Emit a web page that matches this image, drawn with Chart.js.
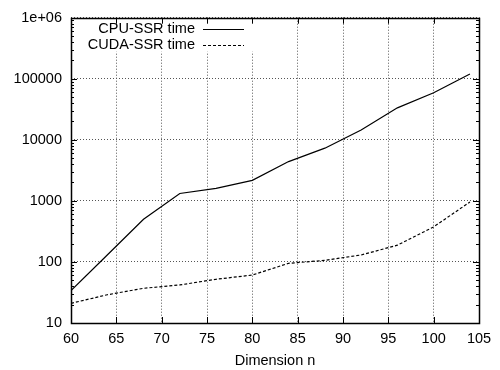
<!DOCTYPE html>
<html>
<head>
<meta charset="utf-8">
<script src="https://cdn.jsdelivr.net/npm/chart.js@4/dist/chart.umd.min.js"></script>
<style>
  html, body { margin: 0; padding: 0; background: #fff; }
  #wrap { width: 500px; height: 370px; }
</style>
</head>
<body>
<div id="wrap"><canvas id="canvas"></canvas></div>
<script>
// data
var dims = [60, 64, 68, 72, 76, 80, 84, 88, 92, 96, 100, 104];
var cpuTime = [34, 130, 500, 1320, 1600, 2170, 4400, 7300, 14500, 33400, 59000, 120000];
var cudaTime = [21, 29, 37, 42, 52, 61, 95, 106, 130, 188, 375, 960];
var xTicks = [60, 65, 70, 75, 80, 85, 90, 95, 100, 105];
var yTicks = [10, 100, 1000, 10000, 100000, 1000000];
var yLabels = ['10', '100', '1000', '10000', '100000', '1e+06'];

var FONT = '"Liberation Sans", Arial, Helvetica, sans-serif';
var FSIZE = 14.5;

// gnuplot style frame, inward ticks and key
var gnuplotBits = {
  id: 'gnuplotBits',
  beforeDatasetsDraw: function (chart) {
    var ctx = chart.ctx, a = chart.chartArea;
    // key box hides the grid behind it
    ctx.save();
    ctx.fillStyle = '#fff';
    ctx.fillRect(a.left + 1, a.top + 1, 222, 33);
    ctx.restore();
  },
  afterDraw: function (chart) {
    var ctx = chart.ctx, a = chart.chartArea;
    var xs = chart.scales.x, ys = chart.scales.y;
    ctx.save();
    ctx.strokeStyle = '#000';
    ctx.lineWidth = 1;
    ctx.beginPath();
    xTicks.forEach(function (v) {
      var px = Math.round(xs.getPixelForValue(v)) + 0.5;
      ctx.moveTo(px, a.bottom); ctx.lineTo(px, a.bottom - 6);
      ctx.moveTo(px, a.top); ctx.lineTo(px, a.top + 6);
    });
    yTicks.forEach(function (v, i) {
      var py = Math.round(ys.getPixelForValue(v)) + 0.5;
      ctx.moveTo(a.left, py); ctx.lineTo(a.left + 6, py);
      ctx.moveTo(a.right, py); ctx.lineTo(a.right - 6, py);
      if (i < yTicks.length - 1) {
        for (var m = 2; m < 10; m++) {
          var pm = Math.round(ys.getPixelForValue(v * m)) + 0.5;
          ctx.moveTo(a.left, pm); ctx.lineTo(a.left + 3, pm);
          ctx.moveTo(a.right, pm); ctx.lineTo(a.right - 3, pm);
        }
      }
    });
    ctx.stroke();
    ctx.lineWidth = 1.5;
    ctx.strokeRect(Math.round(a.left) + 0.5, Math.round(a.top) + 0.5,
      Math.round(a.right - a.left), Math.round(a.bottom - a.top));

    // key: text right aligned, then line sample
    ctx.lineWidth = 1.2;
    ctx.font = FSIZE + 'px ' + FONT;
    ctx.fillStyle = '#000';
    ctx.textAlign = 'right';
    ctx.textBaseline = 'middle';
    chart.data.datasets.forEach(function (ds, i) {
      var y = a.top + 11.5 + i * 16;
      ctx.fillText(ds.label, a.left + 124, y);
      ctx.beginPath();
      ctx.setLineDash(ds.borderDash || []);
      ctx.moveTo(a.left + 132, Math.round(y) + 0.5);
      ctx.lineTo(a.left + 173, Math.round(y) + 0.5);
      ctx.stroke();
    });
    ctx.restore();
  }
};

var canvas = document.getElementById('canvas');
var chart = new Chart(canvas, {
  type: 'line',
  data: {
    datasets: [
      {
        label: 'CPU-SSR time',
        data: dims.map(function (d, i) { return { x: d, y: cpuTime[i] }; }),
        borderColor: '#000',
        borderWidth: 1.2,
        pointRadius: 0,
        tension: 0,
        fill: false
      },
      {
        label: 'CUDA-SSR time',
        data: dims.map(function (d, i) { return { x: d, y: cudaTime[i] }; }),
        borderColor: '#000',
        borderWidth: 1.2,
        borderDash: [3, 2],
        pointRadius: 0,
        tension: 0,
        fill: false
      }
    ]
  },
  options: {
    responsive: true,
    maintainAspectRatio: false,
    animation: false,
    layout: { padding: { left: 0, top: 15, right: 21, bottom: 0 } },
    plugins: {
      legend: { display: false },
      tooltip: { enabled: false }
    },
    scales: {
      x: {
        type: 'linear',
        min: 60,
        max: 105,
        afterBuildTicks: function (scale) {
          scale.ticks = xTicks.map(function (v) { return { value: v }; });
        },
        afterFit: function (scale) { scale.height = 47; },
        grid: { color: '#555', drawTicks: false },
        border: { display: false, dash: [1, 2] },
        ticks: {
          color: '#000',
          padding: 7,
          maxRotation: 0,
          font: { family: FONT, size: FSIZE }
        },
        title: {
          display: true,
          text: 'Dimension n',
          color: '#000',
          padding: { top: 3, bottom: 0 },
          font: { family: FONT, size: FSIZE }
        }
      },
      y: {
        type: 'logarithmic',
        min: 10,
        max: 1000000,
        afterBuildTicks: function (scale) {
          scale.ticks = yTicks.map(function (v) { return { value: v }; });
        },
        afterFit: function (scale) { scale.width = 71; },
        grid: { color: '#555', drawTicks: false },
        border: { display: false, dash: [1, 2] },
        ticks: {
          color: '#000',
          padding: 9,
          font: { family: FONT, size: FSIZE },
          callback: function (v) {
            var i = yTicks.indexOf(v);
            return i >= 0 ? yLabels[i] : '';
          }
        }
      }
    }
  },
  plugins: [gnuplotBits]
});
</script>
</body>
</html>
